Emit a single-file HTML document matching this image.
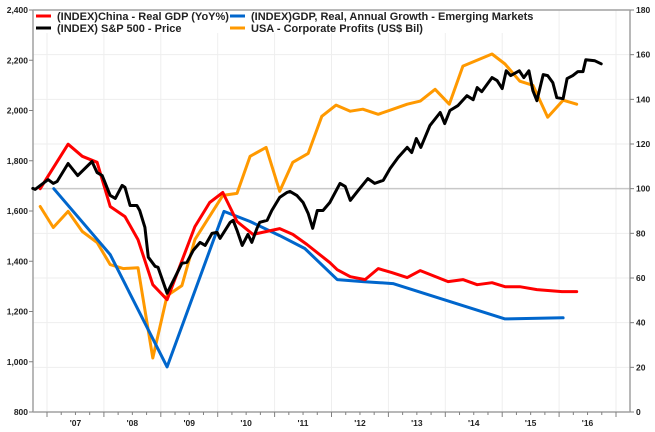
<!DOCTYPE html>
<html><head><meta charset="utf-8"><style>
html,body{margin:0;padding:0;background:#fff;}
svg{display:block;font-family:"Liberation Sans",Arial,sans-serif;}
</style></head><body>
<svg id="chart" width="655" height="432" viewBox="0 0 655 432"></svg>
<script>
const spDates=[2006.75,2006.79,2007.02,2007.11,2007.18,2007.37,2007.54,2007.79,2007.88,2007.97,2008.11,2008.20,2008.32,2008.37,2008.46,2008.58,2008.63,2008.72,2008.78,2008.90,2008.95,2009.11,2009.25,2009.37,2009.46,2009.57,2009.69,2009.78,2009.90,2009.99,2010.04,2010.22,2010.27,2010.34,2010.43,2010.53,2010.60,2010.69,2010.74,2010.87,2010.95,2011.09,2011.22,2011.27,2011.39,2011.50,2011.59,2011.67,2011.75,2011.85,2011.97,2012.15,2012.24,2012.33,2012.47,2012.64,2012.76,2012.91,2013.03,2013.17,2013.33,2013.41,2013.49,2013.57,2013.73,2013.91,2013.99,2014.08,2014.22,2014.38,2014.49,2014.56,2014.64,2014.82,2014.91,2015.00,2015.07,2015.15,2015.30,2015.38,2015.47,2015.54,2015.61,2015.72,2015.80,2015.89,2015.96,2016.07,2016.14,2016.24,2016.33,2016.42,2016.47,2016.63,2016.74];
const spValues=[1690,1686,1725,1710,1718,1789,1741,1797,1753,1741,1662,1650,1702,1694,1622,1622,1602,1535,1416,1380,1376,1273,1336,1392,1396,1443,1475,1463,1511,1515,1491,1555,1563,1523,1463,1507,1475,1531,1555,1563,1602,1654,1674,1678,1662,1634,1590,1531,1602,1602,1634,1710,1698,1642,1682,1729,1710,1722,1769,1813,1853,1833,1888,1853,1940,1992,1948,2000,2019,2059,2043,2091,2075,2131,2119,2087,2158,2139,2158,2131,2158,2079,2039,2143,2139,2111,2051,2047,2127,2139,2155,2155,2202,2198,2186];
const chinaDates=[2006.88,2007.37,2007.62,2007.88,2008.11,2008.37,2008.60,2008.86,2009.11,2009.60,2009.86,2010.09,2010.34,2010.62,2011.09,2011.32,2011.57,2011.97,2012.10,2012.33,2012.59,2012.82,2013.06,2013.33,2013.56,2014.05,2014.31,2014.56,2014.82,2015.05,2015.31,2015.61,2016.05,2016.31];
const chinaValues=[100,119.9,114.5,111.8,92.0,87.5,77.2,57.0,50.3,83.0,93.8,98.3,85.3,79.5,82.1,79.5,75.0,66.9,63.7,60.6,59.3,64.2,62.4,60.2,63.3,58.4,59.3,57.0,57.9,56.1,56.1,54.8,53.9,53.9];
const emDates=[2007.12,2008.11,2009.11,2010.11,2010.57,2011.09,2011.53,2012.10,2012.55,2013.08,2015.05,2016.07];
const emValues=[100,70.5,20.2,89.8,85.3,79.0,73.2,59.3,58.4,57.5,41.7,42.2];
const profitDates=[2006.88,2007.11,2007.37,2007.62,2007.88,2008.11,2008.34,2008.60,2008.86,2009.11,2009.37,2009.60,2010.09,2010.34,2010.57,2010.85,2011.09,2011.32,2011.59,2011.83,2012.08,2012.33,2012.55,2012.82,2013.08,2013.33,2013.56,2013.82,2014.07,2014.31,2014.82,2015.05,2015.31,2015.54,2015.80,2016.07,2016.31];
const profitValues=[92.0,82.6,89.8,80.8,75.9,66.0,64.2,64.6,24.2,52.1,56.6,77.2,97.0,97.9,114.5,118.5,98.8,111.8,115.8,132.4,137.4,134.7,135.6,133.3,135.6,137.8,139.2,144.5,137.8,154.9,160.3,155.8,148.1,146.3,132.0,139.6,137.8];
const leftTicks=[800,1000,1200,1400,1600,1800,2000,2200,2400];
const leftTickLabels=["800","1,000","1,200","1,400","1,600","1,800","2,000","2,200","2,400"];
const rightTicks=[0,20,40,60,80,100,120,140,160,180];
const years=[2007,2008,2009,2010,2011,2012,2013,2014,2015,2016];
const yearLabels=["'07","'08","'09","'10","'11","'12","'13","'14","'15","'16"];

const L=33,R=630,T=10,B=412;
const x=yr=>47+(yr-2007)*56.9;
const yL=v=>B-(v-800)*(B-T)/1600;
const yR=v=>B-v*(B-T)/180;
const svg=document.getElementById('chart');
const NS='http://www.w3.org/2000/svg';
function mk(tag,attrs,parent){const e=document.createElementNS(NS,tag);for(const k in attrs)e.setAttribute(k,attrs[k]);(parent||svg).appendChild(e);return e;}

// gridlines
const grid=mk('g',{});


for(let yr=2007;yr<=2017;yr++){const gx=x(yr);if(gx<R)mk('line',{x1:gx,x2:gx,y1:T,y2:B,stroke:'#eeeeee','stroke-width':1},grid);}
rightTicks.forEach(v=>{if(v>0&&v<180&&v!==100)mk('line',{x1:L,x2:R,y1:yR(v),y2:yR(v),stroke:'#eeeeee','stroke-width':1},grid);});
const ref=mk('line',{x1:L,x2:R,y1:yR(100),y2:yR(100),stroke:'#c8c8c8','stroke-width':1.5});



// frame
const frame=mk('g',{stroke:'#a0a0a0','stroke-width':1.5,fill:'none'});


mk('line',{x1:L,x2:L,y1:T,y2:B},frame);
mk('line',{x1:R,x2:R,y1:T,y2:B},frame);
mk('line',{x1:L,x2:R,y1:B,y2:B},frame);
mk('line',{x1:L,x2:R,y1:T,y2:T},frame);

// left axis
const la=mk('g',{});


leftTicks.forEach((v,i)=>{const ty=yL(v);mk('line',{x1:L-4,x2:L,y1:ty,y2:ty,stroke:'#808080'},la);
const t=mk('text',{x:L-5,y:ty+3,'text-anchor':'end','font-size':8.5,'font-weight':'bold',fill:'#222'},la);t.textContent=leftTickLabels[i];

});
// right axis
const ra=mk('g',{});


rightTicks.forEach(v=>{const ty=yR(v);mk('line',{x1:R,x2:R+4,y1:ty,y2:ty,stroke:'#808080'},ra);
const t=mk('text',{x:R+6,y:ty+3,'font-size':8.5,'font-weight':'bold',fill:'#222'},ra);t.textContent=String(v);

});
// x axis
const xa=mk('g',{});


for(let q=2006.75;q<2017.3;q+=0.25){const gx=x(q);if(gx<=L||gx>=R)continue;const major=Math.abs(q-Math.round(q))<0.01;mk('line',{x1:gx,x2:gx,y1:B,y2:B+(major?5:3),stroke:'#808080'},xa);}
years.forEach((yr,i)=>{const t=mk('text',{x:x(yr+0.5),y:B+14,'text-anchor':'middle','font-size':8.5,'font-weight':'bold',fill:'#222'},xa);t.textContent=yearLabels[i];

});

function series(dates,vals,yf,color,name){const d=dates.map((t,i)=>(i?'L':'M')+x(t).toFixed(1)+','+yf(vals[i]).toFixed(1)).join(' ');
const p=mk('path',{d:d,fill:'none',stroke:color,'stroke-width':3,'stroke-linejoin':'round','stroke-linecap':'round'});

}
series(profitDates,profitValues,yR,'#ff9900','usa-corporate-profits-line');
series(emDates,emValues,yR,'#0066cc','emerging-markets-gdp-line');
series(chinaDates,chinaValues,yR,'#ff0000','china-gdp-line');
series(spDates,spValues,yL,'#000000','sp500-line');

// legend
const lg=mk('g',{});


mk('rect',{x:34,y:11,width:500,height:22,fill:'#fff'},lg);
const items=[[36,16,'#ff0000','(INDEX)China - Real GDP (YoY%)'],[230,16,'#0066cc','(INDEX)GDP, Real, Annual Growth - Emerging Markets'],[36,28,'#000000','(INDEX) S&P 500 - Price'],[230,28,'#ff9900','USA - Corporate Profits (US$ Bil)']];
items.forEach(it=>{const g=mk('g',{},lg);


mk('line',{x1:it[0],x2:it[0]+15,y1:it[1],y2:it[1],stroke:it[2],'stroke-width':3},g);
const t=mk('text',{x:it[0]+21,y:it[1]+4,'font-size':11,'font-weight':'bold',fill:'#222'},g);t.textContent=it[3];});
</script>
</body></html>
